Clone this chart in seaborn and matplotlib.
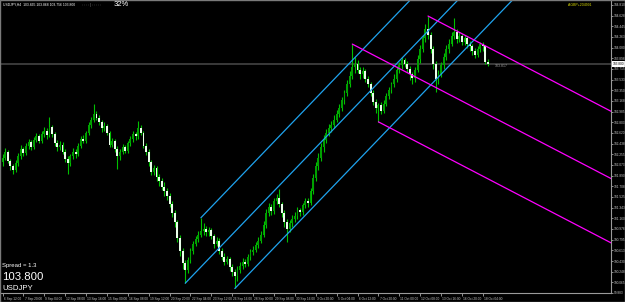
import matplotlib
matplotlib.use("Agg")
import matplotlib.pyplot as plt
import matplotlib.transforms as mtransforms
import seaborn as sns
import pandas as pd
import numpy as np

# ---------------- data (USDJPY, H4) ----------------
opens = [
    102.12, 102.20, 102.30, 102.14, 102.05, 101.98, 102.10, 102.22, 102.35, 102.28,
    102.40, 102.46, 102.38, 102.50, 102.56, 102.48, 102.60, 102.66, 102.58, 102.72,
    102.60, 102.45, 102.38, 102.42, 102.30, 102.18, 102.10, 102.22, 102.30, 102.26,
    102.40, 102.52, 102.48, 102.62, 102.75, 102.84, 102.95, 102.88, 102.80, 102.70,
    102.74, 102.62, 102.42, 102.48, 102.35, 102.22, 102.30, 102.38, 102.32, 102.44,
    102.52, 102.60, 102.56, 102.70, 102.62, 102.40, 102.30, 102.12, 101.95, 102.02,
    101.86, 101.80, 101.70, 101.62, 101.55, 101.40, 101.25, 101.10, 100.82, 100.60,
    100.40, 100.28, 100.45, 100.60, 100.72, 100.80, 100.88, 100.95, 100.98, 100.92,
    100.96, 100.85, 100.72, 100.78, 100.60, 100.50, 100.42, 100.46, 100.32, 100.25,
    100.18, 100.28, 100.35, 100.42, 100.38, 100.50, 100.58, 100.62, 100.70, 100.78,
    100.88, 101.05, 101.25, 101.35, 101.28, 101.45, 101.50, 101.40, 101.25, 101.10,
    100.98, 101.08, 101.15, 101.20, 101.30, 101.26, 101.38, 101.45, 101.42, 101.62,
    101.85, 102.05, 102.20, 102.38, 102.50, 102.62, 102.70, 102.76, 102.85, 102.95,
    103.05, 103.18, 103.30, 103.45, 103.60, 103.75, 103.80, 103.70, 103.62, 103.68,
    103.55, 103.45, 103.30, 103.15, 103.05, 103.10, 103.00, 103.12, 103.25, 103.35,
    103.45, 103.55, 103.70, 103.78, 103.86, 103.80, 103.72, 103.62, 103.56, 103.70,
    103.88, 104.05, 104.25, 104.40, 104.30, 104.05, 103.80, 103.55, 103.62, 103.78,
    103.92, 104.05, 104.15, 104.28, 104.35, 104.22, 104.28, 104.18, 104.25, 104.15,
    104.10, 104.02, 103.95, 104.05, 104.14, 104.10, 103.84,
]
highs = [
    102.26, 102.36, 102.33, 102.18, 102.09, 102.15, 102.28, 102.42, 102.38, 102.45,
    102.52, 102.50, 102.55, 102.62, 102.60, 102.65, 102.72, 102.70, 102.90, 102.76,
    102.63, 102.50, 102.48, 102.46, 102.34, 102.22, 102.26, 102.36, 102.34, 102.44,
    102.56, 102.58, 102.66, 102.80, 102.90, 103.12, 103.00, 102.92, 102.84, 102.80,
    102.78, 102.66, 102.53, 102.52, 102.40, 102.34, 102.43, 102.42, 102.48, 102.57,
    102.65, 102.64, 102.82, 102.75, 102.66, 102.44, 102.35, 102.16, 102.08, 102.05,
    101.92, 101.85, 101.78, 101.68, 101.60, 101.46, 101.30, 101.14, 100.88, 100.66,
    100.45, 100.50, 100.66, 100.78, 100.86, 100.95, 101.17, 101.08, 101.03, 101.02,
    101.00, 100.90, 100.84, 100.82, 100.65, 100.56, 100.52, 100.50, 100.38, 100.30,
    100.34, 100.42, 100.48, 100.46, 100.55, 100.64, 100.68, 100.76, 100.84, 100.95,
    101.12, 101.32, 101.42, 101.40, 101.50, 101.58, 101.66, 101.44, 101.30, 101.15,
    101.14, 101.22, 101.26, 101.35, 101.34, 101.43, 101.50, 101.50, 101.68, 101.92,
    102.12, 102.28, 102.45, 102.58, 102.68, 102.78, 102.82, 102.92, 103.02, 103.12,
    103.24, 103.36, 103.52, 103.68, 104.14, 103.92, 103.86, 103.75, 103.74, 103.72,
    103.60, 103.50, 103.35, 103.20, 103.14, 103.15, 103.18, 103.30, 103.40, 103.50,
    103.62, 103.76, 103.84, 103.92, 103.90, 103.85, 103.76, 103.66, 103.75, 103.95,
    104.12, 104.30, 104.48, 104.62, 104.35, 104.10, 103.85, 103.70, 103.84, 103.98,
    104.12, 104.22, 104.34, 104.58, 104.40, 104.34, 104.32, 104.30, 104.28, 104.20,
    104.14, 104.08, 104.10, 104.18, 104.17, 104.12, 103.88,
]
lows = [
    102.06, 102.15, 102.10, 101.98, 101.92, 101.95, 102.05, 102.18, 102.22, 102.25,
    102.35, 102.33, 102.34, 102.46, 102.44, 102.45, 102.55, 102.52, 102.55, 102.55,
    102.40, 102.32, 102.33, 102.26, 102.12, 101.92, 102.05, 102.17, 102.20, 102.22,
    102.36, 102.44, 102.45, 102.58, 102.70, 102.80, 102.84, 102.76, 102.64, 102.65,
    102.58, 102.38, 102.38, 102.30, 102.00, 102.15, 102.26, 102.27, 102.28, 102.40,
    102.47, 102.50, 102.52, 102.58, 102.36, 102.24, 102.06, 101.90, 101.90, 101.80,
    101.72, 101.64, 101.55, 101.48, 101.35, 101.18, 101.02, 100.76, 100.52, 100.30,
    100.05, 100.22, 100.40, 100.55, 100.68, 100.75, 100.84, 100.88, 100.86, 100.86,
    100.80, 100.66, 100.68, 100.55, 100.44, 100.36, 100.38, 100.26, 100.18, 99.96,
    100.08, 100.22, 100.30, 100.32, 100.34, 100.45, 100.53, 100.58, 100.66, 100.74,
    100.84, 101.00, 101.20, 101.22, 101.24, 101.40, 101.35, 101.18, 101.02, 100.76,
    100.92, 101.02, 101.10, 101.15, 101.20, 101.22, 101.33, 101.36, 101.38, 101.58,
    101.80, 101.98, 102.14, 102.30, 102.44, 102.56, 102.64, 102.70, 102.80, 102.90,
    103.00, 103.12, 103.25, 103.40, 103.55, 103.65, 103.64, 103.55, 103.56, 103.50,
    103.40, 103.26, 103.10, 102.96, 102.81, 102.94, 102.96, 103.08, 103.20, 103.30,
    103.40, 103.50, 103.64, 103.72, 103.74, 103.66, 103.52, 103.46, 103.50, 103.66,
    103.82, 104.00, 104.18, 104.22, 103.98, 103.72, 103.32, 103.45, 103.58, 103.72,
    103.86, 103.98, 104.10, 104.22, 104.16, 104.18, 104.12, 104.12, 104.08, 104.02,
    103.96, 103.90, 103.92, 104.00, 104.02, 103.80, 103.76,
]
closes = [
    102.20, 102.30, 102.14, 102.05, 101.98, 102.10, 102.22, 102.35, 102.28, 102.40,
    102.46, 102.38, 102.50, 102.56, 102.48, 102.60, 102.66, 102.58, 102.72, 102.60,
    102.45, 102.38, 102.42, 102.30, 102.18, 102.10, 102.22, 102.30, 102.26, 102.40,
    102.52, 102.48, 102.62, 102.75, 102.84, 102.95, 102.88, 102.80, 102.70, 102.74,
    102.62, 102.42, 102.48, 102.35, 102.22, 102.30, 102.38, 102.32, 102.44, 102.52,
    102.60, 102.56, 102.70, 102.62, 102.40, 102.30, 102.12, 101.95, 102.02, 101.86,
    101.80, 101.70, 101.62, 101.55, 101.40, 101.25, 101.10, 100.82, 100.60, 100.40,
    100.28, 100.45, 100.60, 100.72, 100.80, 100.88, 100.95, 100.98, 100.92, 100.96,
    100.85, 100.72, 100.78, 100.60, 100.50, 100.42, 100.46, 100.32, 100.25, 100.18,
    100.28, 100.35, 100.42, 100.38, 100.50, 100.58, 100.62, 100.70, 100.78, 100.88,
    101.05, 101.25, 101.35, 101.28, 101.45, 101.50, 101.40, 101.25, 101.10, 100.98,
    101.08, 101.15, 101.20, 101.30, 101.26, 101.38, 101.45, 101.42, 101.62, 101.85,
    102.05, 102.20, 102.38, 102.50, 102.62, 102.70, 102.76, 102.85, 102.95, 103.05,
    103.18, 103.30, 103.45, 103.60, 103.75, 103.80, 103.70, 103.62, 103.68, 103.55,
    103.45, 103.30, 103.15, 103.05, 103.10, 103.00, 103.12, 103.25, 103.35, 103.45,
    103.55, 103.70, 103.78, 103.86, 103.80, 103.72, 103.62, 103.56, 103.70, 103.88,
    104.05, 104.25, 104.40, 104.30, 104.05, 103.80, 103.55, 103.62, 103.78, 103.92,
    104.05, 104.15, 104.28, 104.35, 104.22, 104.28, 104.18, 104.25, 104.15, 104.10,
    104.02, 103.95, 104.05, 104.14, 104.10, 103.84, 103.80,
]

date_label_bars = [0, 8, 16, 24, 32, 40, 48, 56, 64, 72, 80, 88,
                   96, 104, 112, 120, 128, 136, 144, 152, 160, 168, 176, 184]
date_labels = ["6 Sep 12:00", "7 Sep 20:00", "9 Sep 04:00", "12 Sep 08:00",
               "13 Sep 16:00", "15 Sep 00:00", "16 Sep 08:00", "19 Sep 12:00",
               "20 Sep 20:00", "22 Sep 04:00", "23 Sep 12:00", "26 Sep 16:00",
               "28 Sep 00:00", "29 Sep 08:00", "30 Sep 16:00", "3 Oct 20:00",
               "5 Oct 04:00", "6 Oct 12:00", "7 Oct 20:00", "11 Oct 00:00",
               "12 Oct 08:00", "13 Oct 16:00", "16 Oct 20:00", "18 Oct 04:00"]

price_ticks = [104.810, 104.628, 104.445, 104.263, 104.080, 103.898, 103.715,
               103.533, 103.350, 103.168, 102.985, 102.803, 102.620, 102.438,
               102.255, 102.073, 101.890, 101.708, 101.525, 101.343, 101.160,
               100.978, 100.795, 100.613, 100.430, 100.248, 100.065, 99.883]

current_price = 103.800
spread_text = "Spread = 1.3"
symbol = "USDJPY"
header_text = "USDJPY,H4  103.865 103.868 103.756 103.800"

# pitchfork lines (anchor points: bar index, price)
blue_start_bars = [76, 70, 89]
blue_start_prices = [101.17, 100.05, 99.96]
blue_end_bars = [230, 230, 230]
blue_end_prices = [108.32, 107.47, 106.50]

magenta_start_bars = [163, 134, 144]
magenta_start_prices = [104.62, 104.14, 102.81]
magenta_end_bars = [234, 234, 234]
magenta_end_prices = [102.97, 101.82, 100.72]

# ---------------- style ----------------
sns.set_theme(style="dark")
plt.rcParams["font.family"] = ["Liberation Sans", "DejaVu Sans"]

W, H = 625, 302
fig = plt.figure(figsize=(W / 100, H / 100), dpi=100, facecolor="black")
ax = fig.add_axes([1 / W, 9 / H, 610 / W, 292 / H])
ax.set_facecolor("black")

wick_col = "#00C000"
bull_col = "#00A000"
bear_col = "#EAFFEA"

o = np.array(opens)
h = np.array(highs)
l = np.array(lows)
c = np.array(closes)
idx = np.arange(len(c))

ax.axhline(current_price, color="#3A3A3A", lw=1.4, zorder=1)

ax.vlines(idx, l, h, color=wick_col, lw=0.8, zorder=2)
up = c >= o
body_lo = np.minimum(o, c)
body_h = np.maximum(np.abs(c - o), 0.012)
ax.bar(idx[up], body_h[up], bottom=body_lo[up], width=0.72,
       color=bull_col, edgecolor="none", zorder=3)
ax.bar(idx[~up], body_h[~up], bottom=body_lo[~up], width=0.72,
       color=bear_col, edgecolor="none", zorder=3)

rows = []
for k in range(len(blue_start_bars)):
    rows.append({"bar": blue_start_bars[k], "price": blue_start_prices[k], "line": f"b{k}"})
    rows.append({"bar": blue_end_bars[k], "price": blue_end_prices[k], "line": f"b{k}"})
blue_df = pd.DataFrame(rows)
rows = []
for k in range(len(magenta_start_bars)):
    rows.append({"bar": magenta_start_bars[k], "price": magenta_start_prices[k], "line": f"m{k}"})
    rows.append({"bar": magenta_end_bars[k], "price": magenta_end_prices[k], "line": f"m{k}"})
mag_df = pd.DataFrame(rows)

sns.lineplot(data=blue_df, x="bar", y="price", units="line", estimator=None,
             sort=False, color="#1FA3EE", lw=0.9, ax=ax, zorder=4)
sns.lineplot(data=mag_df, x="bar", y="price", units="line", estimator=None,
             sort=False, color="#FF00FF", lw=0.9, ax=ax, zorder=4)

ax.set_xlim(-0.575, 233.1)
ax.set_ylim(99.884, 104.877)
ax.set_xlabel("")
ax.set_ylabel("")

# axes / ticks
for side in ["top", "left"]:
    ax.spines[side].set_visible(False)
for side in ["right", "bottom"]:
    ax.spines[side].set_visible(True)
    ax.spines[side].set_color("#9A9A9A")
    ax.spines[side].set_linewidth(0.8)

ax.yaxis.tick_right()
ax.set_yticks(price_ticks)
ax.set_yticklabels([f"{v:.3f}" for v in price_ticks])
ax.set_xticks(date_label_bars)
ax.set_xticklabels(date_labels, ha="left")
ax.tick_params(axis="y", colors="#C8C8C8", labelsize=2.3, length=1.2,
               width=0.5, pad=0.6, direction="out", right=True, left=False)
ax.tick_params(axis="x", colors="#C8C8C8", labelsize=2.3, length=2.5,
               width=0.5, pad=0.3, direction="out", bottom=True)
offset = mtransforms.ScaledTranslation(1.2 / 100, 0, fig.dpi_scale_trans)
for t in ax.get_xticklabels():
    t.set_transform(t.get_transform() + offset)
ax.grid(False)

# current price tag on the scale
blend = mtransforms.blended_transform_factory(ax.transAxes, ax.transData)
ax.text(1.003, current_price, f"{current_price:.3f}", transform=blend,
        fontsize=2.3, color="black", va="center", ha="left", zorder=6,
        bbox=dict(boxstyle="square,pad=0.2", fc="white", ec="none"),
        clip_on=False)
ax.text(188.5, current_price - 0.03, "103.817", fontsize=2.6,
        color="#9A9A9A", va="center", ha="left", zorder=5)

# overlays
fig.text(3 / W, 1 - 5 / H, header_text, fontsize=2.4, color="white",
         va="center", ha="left")
fig.text(82 / W, 1 - 5 / H, ": : : : | : : : : :", fontsize=2.6,
         color="#8C8C8C", va="center", ha="left")
fig.text(114 / W, 1 - 5 / H, "32%", fontsize=5.5, color="white",
         va="center", ha="left")
fig.text(568 / W, 1 - 5.5 / H, "A-GBP+204991", fontsize=2.5, color="#D8D800",
         va="center", ha="left")

fig.text(2 / W, 1 - 265 / H, spread_text, fontsize=4.3, color="white",
         va="center", ha="left")
fig.text(2 / W, 1 - 277 / H, f"{current_price:.3f}", fontsize=8.2,
         color="white", va="center", ha="left")
fig.text(2 / W, 1 - 288.5 / H, symbol, fontsize=5.6, color="white",
         va="center", ha="left")

fig.add_artist(plt.Rectangle((0, 0), 1, 1, transform=fig.transFigure,
                             fill=False, ec="#7A7A7A", lw=1.0))

fig.savefig("out.png", dpi=100, facecolor="black")
